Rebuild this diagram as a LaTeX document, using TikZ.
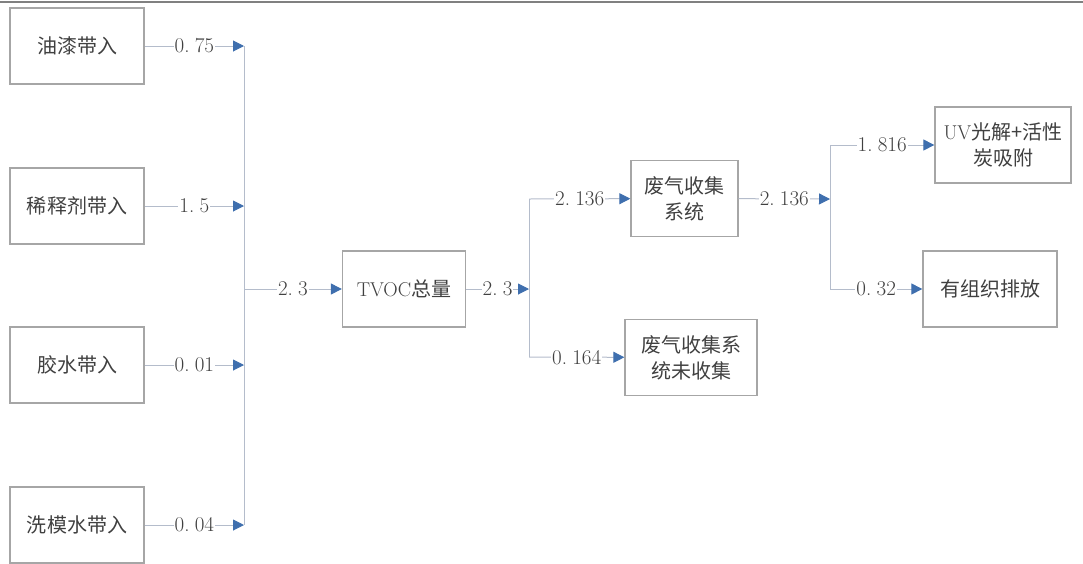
\documentclass[tikz,border=0pt]{standalone}
\usepackage{fontspec}
\newfontfamily\cjk{Noto Sans CJK SC}
\usetikzlibrary{arrows.meta, positioning}
\definecolor{linegray}{HTML}{B4BCCB}
\definecolor{boxgray}{HTML}{A6A6A6}
\definecolor{tipblue}{HTML}{3F6FAE}
\definecolor{txtgray}{HTML}{404040}
% full-width decimal point, as in the numbers of the chart
\newcommand{\fdot}{\makebox[0.5em][l]{.}}

\begin{document}
\begin{tikzpicture}[x=1pt, y=-1pt,
    box/.style={draw=boxgray, line width=1.3pt, minimum height=76pt, inner sep=2pt, text=txtgray, font=\cjk\fontsize{20}{26}\selectfont, align=center},
    wire/.style={draw=linegray, line width=1pt},
    flow/.style={wire, -{Triangle[length=11pt, width=11pt, color=tipblue, fill=tipblue]}},
    num/.style={fill=white, inner sep=1pt, text=txtgray, font=\fontsize{21}{23}\selectfont}]

    \useasboundingbox (0,0) rectangle (1083,563);
    \draw[gray, line width=2pt] (0,2) -- (1083,2);

    % sources of TVOC
    \node[box, minimum width=134pt] (paint) at (77,46) {油漆带入};
    \node[box, minimum width=134pt] (thinner) at (77,206) {稀释剂带入};
    \node[box, minimum width=134pt] (glue) at (77,365) {胶水带入};
    \node[box, minimum width=134pt] (wash) at (77,525) {洗模水带入};

    % total and its split
    \node[box, minimum width=123pt] (tvoc) at (404,289) {{\rmfamily TVOC}总量};
    \node[box, minimum width=107pt] (collect) at (684.5,198.5) {废气收集\\系统};
    \node[box, minimum width=132pt] (leak) at (691,357.5) {废气收集系\\统未收集};
    \node[box, minimum width=136pt] (uv) at (1003,145) {{\rmfamily UV}光解+活性\\炭吸附};
    \node[box, minimum width=134pt] (stack) at (990,289) {有组织排放};

    % junction points
    \coordinate (in1) at (244,46);
    \coordinate (in2) at (244,206);
    \coordinate (in3) at (244,365);
    \coordinate (in4) at (244,525);
    \coordinate (inmid) at (244,289);
    \coordinate (split1) at (529,289);
    \coordinate (split1a) at (529,199);
    \coordinate (split1b) at (529,357);
    \coordinate (split2) at (830,199);
    \coordinate (split2a) at (830,145);
    \coordinate (split2b) at (830,289);

    % inputs
    \draw[flow] (paint) -- node[num]{0\fdot75} (in1);
    \draw[flow] (thinner) -- node[num]{1\fdot5} (in2);
    \draw[flow] (glue) -- node[num]{0\fdot01} (in3);
    \draw[flow] (wash) -- node[num]{0\fdot04} (in4);
    \draw[wire] (in1) -- (in4);
    \draw[flow] (inmid) -- node[num]{2\fdot3} (tvoc);

    % collection
    \draw[flow] (tvoc) -- node[num]{2\fdot3} (split1);
    \draw[wire] (split1a) -- (split1b);
    \draw[flow] (split1a) -- node[num]{2\fdot136} (collect);
    \draw[flow] (split1b) -- node[num]{0\fdot164} (leak);

    % treatment
    \draw[flow] (collect) -- node[num]{2\fdot136} (split2);
    \draw[wire] (split2a) -- (split2b);
    \draw[flow] (split2a) -- node[num]{1\fdot816} (uv);
    \draw[flow] (split2b) -- node[num]{0\fdot32} (stack);
\end{tikzpicture}
\end{document}
